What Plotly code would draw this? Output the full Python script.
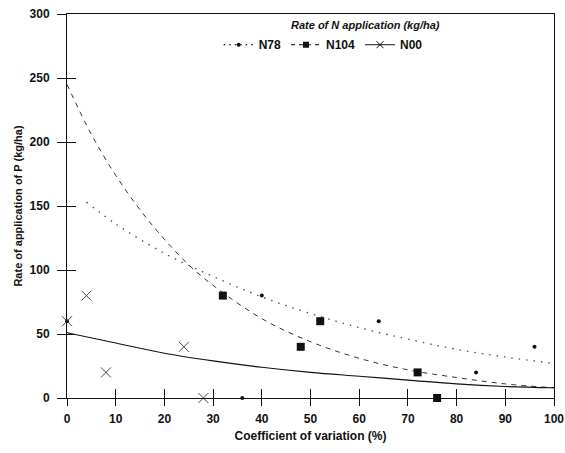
import plotly.graph_objects as go

# Observed points
n78_x = [0, 36, 40, 64, 84, 96]
n78_y = [60, 0, 80, 60, 20, 40]
n104_x = [32, 48, 52, 72, 76]
n104_y = [80, 40, 60, 20, 0]
n00_x = [0, 4, 8, 24, 28]
n00_y = [60, 80, 20, 40, 0]

# Fitted curves
fit78_x = [4, 10, 20, 30, 40, 50, 60, 70, 80, 90, 100]
fit78_y = [153, 136, 113, 95, 79, 66, 55, 46, 38, 32, 27]
fit104_x = [0, 5, 10, 15, 20, 25, 30, 40, 50, 60, 70, 80, 90, 100]
fit104_y = [245, 206, 174, 147, 124, 104, 88, 62, 44, 31, 22, 16, 11, 8]
fit00_x = [0, 10, 20, 30, 40, 50, 60, 70, 80, 90, 100]
fit00_y = [51, 43, 35, 29, 24, 20, 17, 14, 11, 9, 8]

x_ticks = [0, 10, 20, 30, 40, 50, 60, 70, 80, 90, 100]
y_ticks = [0, 50, 100, 150, 200, 250, 300]

INK = "#111111"
FONT = "Liberation Sans"

fig = go.Figure()

# curves
fig.add_trace(go.Scatter(x=fit78_x, y=fit78_y, mode="lines", showlegend=False,
                         line=dict(color="#555555", width=1.4, dash="1.5px,6px"), line_shape="spline"))
fig.add_trace(go.Scatter(x=fit104_x, y=fit104_y, mode="lines", showlegend=False,
                         line=dict(color="#333333", width=1, dash="5px,5px"), line_shape="spline"))
fig.add_trace(go.Scatter(x=fit00_x, y=fit00_y, mode="lines", showlegend=False,
                         line=dict(color=INK, width=1.1), line_shape="spline"))

# points
fig.add_trace(go.Scatter(x=n78_x, y=n78_y, mode="markers", showlegend=False, cliponaxis=False,
                         marker=dict(symbol="circle", size=4, color=INK)))
fig.add_trace(go.Scatter(x=n104_x, y=n104_y, mode="markers", showlegend=False, cliponaxis=False,
                         marker=dict(symbol="square", size=8, color=INK)))
fig.add_trace(go.Scatter(x=n00_x, y=n00_y, mode="markers", showlegend=False, cliponaxis=False,
                         marker=dict(symbol="x-thin", size=10, color="#333333",
                                     line=dict(width=0.9, color="#333333"))))

# legend entries
fig.add_trace(go.Scatter(x=[None], y=[None], mode="lines+markers", name="N78",
                         line=dict(color=INK, width=1.3, dash="1.5px,4px"),
                         marker=dict(symbol="circle", size=4, color=INK)))
fig.add_trace(go.Scatter(x=[None], y=[None], mode="lines+markers", name="N104",
                         line=dict(color=INK, width=1, dash="4px,4px"),
                         marker=dict(symbol="square", size=6, color=INK)))
fig.add_trace(go.Scatter(x=[None], y=[None], mode="lines+markers", name="N00",
                         line=dict(color=INK, width=1),
                         marker=dict(symbol="x-thin", size=7, color=INK, line=dict(width=1, color=INK))))

# invisible trace for the secondary (inside-tick) axes
fig.add_trace(go.Scatter(x=[0, 100], y=[0, 300], xaxis="x2", yaxis="y2", mode="markers",
                         marker=dict(opacity=0), showlegend=False, hoverinfo="skip"))

axis_font = dict(family=FONT, size=12, color=INK, weight="bold")

fig.update_layout(
    width=565, height=453,
    margin=dict(l=67, r=11, t=14, b=55),
    paper_bgcolor="white", plot_bgcolor="white",
    font=dict(family=FONT, color=INK),
    xaxis=dict(range=[0, 100], tickvals=x_ticks, ticks="outside", ticklen=7, tickwidth=1,
               tickcolor=INK, showgrid=False, zeroline=False, showline=True, linecolor=INK,
               linewidth=1, mirror=True, tickfont=axis_font, automargin=False,
               ticklabelstandoff=3, ticklabeloverflow="allow",
               title=dict(text="Coefficient of variation (%)", font=axis_font, standoff=6)),
    yaxis=dict(range=[0, 300], tickvals=y_ticks, ticks="outside", ticklen=9, tickwidth=1,
               tickcolor=INK, showgrid=False, zeroline=False, showline=True, linecolor=INK,
               linewidth=1, mirror=True, tickfont=axis_font, automargin=False,
               ticklabelstandoff=5, ticklabeloverflow="allow",
               title=dict(text="Rate of application of P (kg/ha)",
                          font=dict(family=FONT, size=11, color=INK, weight="bold"), standoff=4)),
    xaxis2=dict(range=[0, 100], overlaying="x", tickvals=x_ticks, ticks="inside", ticklen=9,
                tickcolor=INK, showticklabels=False, showgrid=False, zeroline=False,
                showline=False, automargin=False),
    yaxis2=dict(range=[0, 300], overlaying="y", tickvals=y_ticks, ticks="inside", ticklen=9,
                tickcolor=INK, showticklabels=False, showgrid=False, zeroline=False,
                showline=False, automargin=False),
    legend=dict(orientation="h", x=0.526, y=0.92, xanchor="center", yanchor="middle",
                bgcolor="rgba(0,0,0,0)", itemwidth=30, tracegroupgap=0,
                font=dict(family=FONT, size=12, color=INK, weight="bold")),
    annotations=[dict(text="Rate of N application (kg/ha)", xref="paper", yref="paper",
                      x=0.612, y=0.971, xanchor="center", yanchor="middle", showarrow=False,
                      font=dict(family=FONT, size=11, color=INK, weight="bold", style="italic"))],
)

# remove the default page margin so the 565x453 figure fills the window exactly
fig.write_html("out.html", config={"displayModeBar": False},
               post_script="document.body.style.margin='0';document.body.style.overflow='hidden';")
